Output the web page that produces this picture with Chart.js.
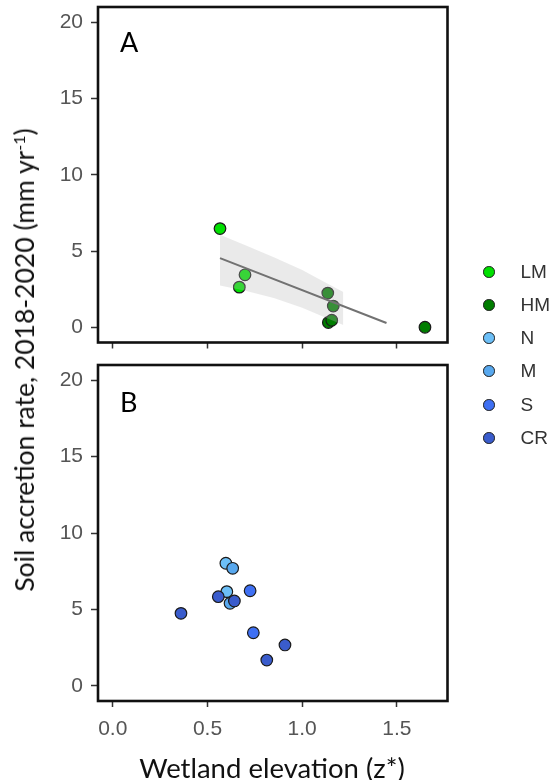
<!DOCTYPE html>
<html>
<head>
<meta charset="utf-8">
<script src="https://cdn.jsdelivr.net/npm/chart.js@4.4.1/dist/chart.umd.min.js"></script>
<style>
  html, body { margin: 0; padding: 0; background: #fff; }
  #fig { position: relative; width: 555px; height: 780px; overflow: hidden; }
  #fig canvas { position: absolute; left: 0; }
  #chartA { top: 0; }
  #chartB { top: 355px; }
  .tag { position: absolute; left: 120px; font-family: Lato, sans-serif; font-size: 27px; line-height: 1; color: #000; }
  #yTitle { position: absolute; left: 24px; top: 360px; transform: translate(-50%, -50%) rotate(-90deg);
            white-space: nowrap; font-family: Lato, sans-serif; font-size: 26.5px; color: #111; }
  #yTitle sup { font-size: 16px; vertical-align: 9px; line-height: 0; }
  #xTitle { position: absolute; left: 272px; top: 767px; transform: translate(-50%, -50%);
            white-space: nowrap; font-family: Lato, sans-serif; font-size: 27.5px; color: #111; }
  .key { position: absolute; left: 483px; height: 22px; transform: translateY(-50%);
         display: flex; align-items: center; font-family: 'Liberation Sans', Arial, sans-serif; font-size: 19px; color: #333; }
  .key i { display: inline-block; width: 9.5px; height: 9.5px; border-radius: 50%; border: 1.3px solid #1a1a1a; margin-right: 26px; }
</style>
</head>
<body>
<div id="fig">
  <canvas id="chartA" width="555" height="355"></canvas>
  <canvas id="chartB" width="555" height="425"></canvas>
  <div class="tag" style="top:28px">A</div>
  <div class="tag" style="top:388px">B</div>
  <div id="yTitle">Soil accretion rate, 2018-2020 (mm yr<sup>-1</sup>)</div>
  <div id="xTitle">Wetland elevation (z*)</div>
  <div id="legend"></div>
</div>
<script>
const xTicks = [0, 0.5, 1.0, 1.5];
const yTicks = [0, 5, 10, 15, 20];
const groups = ['LM', 'HM', 'N', 'M', 'S', 'CR'];
const groupColors = ['#00e000', '#007d00', '#6cbff7', '#58a8ee', '#3f70f3', '#3a5ccc'];

// panel A - marsh sites
const lmX = [0.566, 0.698, 0.668];
const lmY = [6.47, 3.44, 2.63];
const hmX = [1.135, 1.164, 1.138, 1.156, 1.648];
const hmY = [2.24, 1.39, 0.31, 0.46, 0.0];

// regression line and its confidence band
const fitX = [0.566, 1.445];
const fitY = [4.53, 0.28];
const bandX = [0.566, 0.70, 0.85, 1.00, 1.10, 1.217];
const bandUpper = [6.06, 5.37, 4.59, 3.75, 3.08, 2.31];
const bandLower = [2.74, 2.39, 1.92, 1.28, 0.76, 0.14];

// panel B - mangrove sites
const nX = [0.597, 0.602];
const nY = [8.02, 6.16];
const mX = [0.633, 0.619];
const mY = [7.69, 5.40];
const sX = [0.725, 0.742];
const sY = [6.22, 3.47];
const crX = [0.557, 0.642, 0.360, 0.909, 0.813];
const crY = [5.83, 5.55, 4.74, 2.67, 1.68];

const tickFont = { family: "'Liberation Sans', Arial, sans-serif", size: 21 };
const pts = (xs, ys) => xs.map((x, i) => ({ x, y: ys[i] }));
const col = g => groupColors[groups.indexOf(g)];

function dots(g, xs, ys, order) {
  return {
    data: pts(xs, ys), order,
    backgroundColor: col(g), borderColor: '#1a1a1a', borderWidth: 1.2,
    pointRadius: 5.8, pointHoverRadius: 5.8
  };
}

// no extra room for overhanging tick labels, the frame sits where the padding says
function noPad(s) {
  s.paddingTop = 0; s.paddingBottom = 0; s.paddingLeft = 0; s.paddingRight = 0;
}

function makeScales(showX, xHeight) {
  return {
    x: {
      type: 'linear', min: -0.078, max: 1.767,
      afterBuildTicks: s => { s.ticks = xTicks.map(v => ({ value: v })); },
      afterFit: s => { s.height = xHeight; noPad(s); },
      border: { display: false },
      grid: { drawOnChartArea: false, drawTicks: true, tickLength: 6, tickColor: '#333', tickWidth: 1.5 },
      ticks: { display: showX, color: '#555', font: tickFont, padding: 10, maxRotation: 0,
               callback: v => v.toFixed(1) }
    },
    y: {
      type: 'linear', min: -1, max: 21,
      afterBuildTicks: s => { s.ticks = yTicks.map(v => ({ value: v })); },
      afterFit: s => { s.width = 98; noPad(s); },
      border: { display: false },
      grid: { drawOnChartArea: false, drawTicks: true, tickLength: 7, tickColor: '#333', tickWidth: 1.5 },
      ticks: { color: '#555', font: tickFont, padding: 8 }
    }
  };
}

// frame around each panel
const boxPlugin = {
  id: 'box',
  afterDatasetsDraw(chart) {
    const { ctx, chartArea: a } = chart;
    ctx.save();
    ctx.lineWidth = 2.6;
    ctx.strokeStyle = '#111';
    ctx.strokeRect(a.left, a.top, a.right - a.left, a.bottom - a.top);
    ctx.restore();
  }
};

const common = {
  responsive: false, animation: false,
  plugins: { legend: { display: false }, tooltip: { enabled: false } }
};

new Chart(document.getElementById('chartA'), {
  type: 'scatter',
  data: {
    datasets: [
      { data: pts(fitX, fitY), showLine: true, order: 0, borderColor: '#727272', borderWidth: 2, pointRadius: 0 },
      { data: pts(bandX, bandUpper), showLine: true, order: 1, fill: '+1', borderColor: 'transparent',
        backgroundColor: 'rgba(185,185,185,0.3)', pointRadius: 0 },
      { data: pts(bandX, bandLower), showLine: true, order: 1, fill: false, borderColor: 'transparent', pointRadius: 0 },
      dots('LM', lmX, lmY, 2),
      dots('HM', hmX, hmY, 2)
    ]
  },
  options: { ...common, layout: { padding: { top: 4.5, right: 107.5, left: 0, bottom: 0 } }, scales: makeScales(false, 12.5) },
  plugins: [boxPlugin]
});

new Chart(document.getElementById('chartB'), {
  type: 'scatter',
  data: {
    datasets: [
      dots('CR', crX, crY, 1),
      dots('S', sX, sY, 2),
      dots('M', mX, mY, 3),
      dots('N', nX, nY, 4)
    ]
  },
  options: { ...common, layout: { padding: { top: 10, right: 107.5, left: 0, bottom: 0 } }, scales: makeScales(true, 79) },
  plugins: [boxPlugin]
});

// legend for both panels
const legendTop = [272, 305, 338, 371, 405, 438];
const legend = document.getElementById('legend');
groups.forEach((g, i) => {
  const item = document.createElement('div');
  item.className = 'key';
  item.style.top = legendTop[i] + 'px';
  item.innerHTML = `<i style="background:${groupColors[i]}"></i>${g}`;
  legend.appendChild(item);
});
</script>
</body>
</html>
